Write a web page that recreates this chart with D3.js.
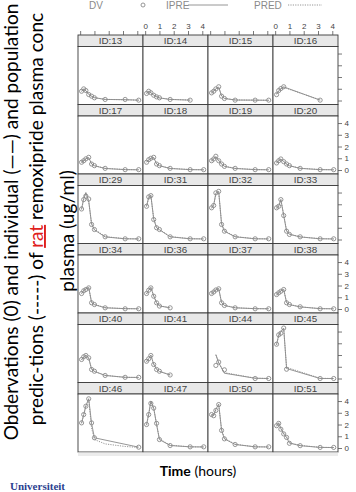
<!DOCTYPE html>
<html>
<head>
<meta charset="utf-8">
<script src="https://cdn.jsdelivr.net/npm/d3@7"></script>
<style>
  html, body { margin: 0; padding: 0; background: #fff; }
  svg { display: block; }
</style>
</head>
<body>
<svg id="chart" width="356" height="492"></svg>
<script>
// Sampling times (hours) shared by all subjects
const times = [0.1, 0.25, 0.4, 0.6, 0.8, 1.0, 1.75, 3.15, 4.1];

// Subject IDs, one panel each, row by row
const ids = [13, 14, 15, 16, 17, 18, 19, 20, 29, 31, 32, 33,
             34, 36, 37, 38, 40, 41, 44, 45, 46, 47, 50, 51];

// Observed concentrations (ug/ml); null = no sample
const dv = [
  [0.79, 0.99, 0.85, 0.51, 0.37, 0.23, 0.09, 0.09, 0.03],
  [0.60, 0.79, 0.66, 0.45, 0.31, 0.23, 0.09, 0.03, null],
  [0.65, 0.79, 0.99, 1.17, 0.37, 0.17, 0.03, 0.03, 0.03],
  [0.50, 0.85, 1.02, 1.17, null, null, null, 0.03, null],
  [0.66, 0.79, 0.95, 1.08, 0.51, 0.37, 0.14, 0.03, 0.03],
  [0.66, 0.88, 1.00, 1.08, 0.51, 0.37, 0.14, 0.03, 0.03],
  [0.79, 0.94, 1.17, 0.79, 0.51, 0.31, 0.14, 0.03, 0.03],
  [0.60, 0.79, 0.94, 0.71, 0.51, 0.37, 0.14, 0.03, 0.03],
  [2.60, 3.40, 3.70, 3.45, 1.28, 0.85, 0.23, 0.06, 0.06],
  [2.83, 3.63, 3.74, 1.70, 1.00, 0.85, 0.23, 0.06, 0.06],
  [2.70, 2.90, 3.97, 4.10, 1.28, 0.71, 0.23, 0.06, 0.06],
  [2.70, 2.83, 3.40, 2.04, 0.71, 0.43, 0.23, 0.06, 0.06],
  [1.32, 1.55, 1.66, 1.80, 0.53, 0.38, 0.10, 0.02, 0.02],
  [1.32, 1.60, 1.80, 1.09, 0.53, 0.25, 0.10, null, null],
  [1.32, 1.45, 1.62, 1.72, 0.53, 0.30, 0.10, 0.02, 0.02],
  [1.23, 1.38, 1.51, 1.66, 0.53, 0.38, 0.19, 0.02, 0.02],
  [1.62, 1.85, 1.96, 1.76, 0.77, 0.62, 0.26, 0.10, 0.10],
  [1.47, 1.68, 1.96, 1.19, 0.77, 0.62, 0.30, null, null],
  [null, null, 1.11, 1.40, null, 0.74, null, 0.00, 0.00],
  [2.92, 3.72, 3.86, 4.30, 0.79, null, null, 0.00, 0.00],
  [2.14, 2.85, 3.56, 4.19, 2.14, 0.87, null, null, 0.07],
  [2.00, 2.85, 3.80, 3.40, 2.10, 0.72, 0.21, 0.10, 0.10],
  [2.85, 2.75, 3.20, 3.70, 1.50, 0.78, 0.30, 0.10, 0.10],
  [1.90, 2.10, 1.60, 1.20, 0.90, 0.40, 0.20, 0.05, 0.05]
];

// Individual predictions (IPRE)
const ipre = [
  [0.80, 0.97, 0.84, 0.52, 0.36, 0.24, 0.09, 0.07, 0.03],
  [0.62, 0.78, 0.66, 0.46, 0.32, 0.22, 0.09, 0.03, null],
  [0.66, 0.80, 1.00, 1.15, 0.38, 0.17, 0.04, 0.03, 0.02],
  [0.52, 0.84, 1.02, 1.16, null, null, null, 0.03, null],
  [0.67, 0.80, 0.96, 1.06, 0.52, 0.36, 0.13, 0.03, 0.02],
  [0.67, 0.87, 1.00, 1.07, 0.52, 0.36, 0.13, 0.03, 0.02],
  [0.80, 0.95, 1.15, 0.80, 0.50, 0.31, 0.13, 0.03, 0.02],
  [0.62, 0.80, 0.93, 0.72, 0.50, 0.36, 0.14, 0.03, 0.02],
  [2.60, 3.50, 4.00, 3.30, 1.30, 0.82, 0.22, 0.06, 0.05],
  [2.85, 3.60, 3.80, 1.72, 1.00, 0.83, 0.23, 0.06, 0.05],
  [2.70, 2.95, 3.95, 4.10, 1.30, 0.70, 0.23, 0.06, 0.05],
  [2.70, 2.85, 3.42, 2.05, 0.72, 0.44, 0.22, 0.06, 0.05],
  [1.33, 1.60, 1.72, 1.85, 0.55, 0.37, 0.10, 0.03, 0.02],
  [1.30, 1.62, 1.85, 1.10, 0.52, 0.26, 0.10, null, null],
  [1.30, 1.47, 1.65, 1.75, 0.54, 0.30, 0.10, 0.03, 0.02],
  [1.22, 1.40, 1.55, 1.68, 0.54, 0.37, 0.18, 0.03, 0.02],
  [1.60, 1.85, 2.00, 1.75, 0.78, 0.60, 0.26, 0.10, 0.09],
  [1.45, 1.70, 2.00, 1.20, 0.78, 0.60, 0.30, null, null],
  [null, null, 2.05, 1.35, null, 0.45, null, 0.02, 0.00],
  [2.90, 3.70, 4.00, 4.30, 0.85, null, null, 0.00, 0.00],
  [2.14, 2.85, 3.60, 4.20, 2.10, 0.87, null, null, 0.07],
  [2.00, 2.90, 4.00, 3.40, 2.00, 0.72, 0.21, 0.10, 0.09],
  [2.85, 2.80, 3.30, 3.75, 1.50, 0.78, 0.30, 0.10, 0.09],
  [1.90, 2.15, 1.65, 1.20, 0.90, 0.42, 0.20, 0.05, 0.04]
];

// Population predictions (PRED)
const pred = [
  [0.78, 0.95, 0.82, 0.55, 0.38, 0.25, 0.10, 0.06, 0.03],
  [0.60, 0.76, 0.68, 0.48, 0.33, 0.23, 0.10, 0.04, null],
  [0.64, 0.82, 0.98, 1.10, 0.42, 0.20, 0.05, 0.03, 0.02],
  [0.55, 0.82, 1.00, 1.12, null, null, null, 0.05, null],
  [0.65, 0.82, 0.95, 1.02, 0.55, 0.38, 0.14, 0.04, 0.02],
  [0.66, 0.85, 0.98, 1.04, 0.55, 0.38, 0.14, 0.04, 0.02],
  [0.78, 0.93, 1.10, 0.82, 0.52, 0.33, 0.14, 0.04, 0.02],
  [0.62, 0.78, 0.90, 0.74, 0.52, 0.37, 0.15, 0.04, 0.02],
  [2.55, 3.40, 3.90, 3.20, 1.40, 0.88, 0.25, 0.07, 0.05],
  [2.80, 3.55, 3.70, 1.80, 1.05, 0.85, 0.25, 0.07, 0.05],
  [2.65, 2.90, 3.85, 4.00, 1.40, 0.75, 0.25, 0.07, 0.05],
  [2.65, 2.80, 3.35, 2.10, 0.78, 0.47, 0.23, 0.07, 0.05],
  [1.30, 1.55, 1.70, 1.80, 0.60, 0.40, 0.12, 0.03, 0.02],
  [1.28, 1.58, 1.80, 1.15, 0.56, 0.28, 0.11, null, null],
  [1.28, 1.45, 1.60, 1.70, 0.58, 0.32, 0.11, 0.03, 0.02],
  [1.20, 1.38, 1.52, 1.64, 0.58, 0.39, 0.19, 0.03, 0.02],
  [1.58, 1.82, 1.95, 1.72, 0.82, 0.62, 0.27, 0.10, 0.09],
  [1.42, 1.66, 1.95, 1.25, 0.80, 0.62, 0.31, null, null],
  [null, null, 2.00, 1.30, null, 0.50, null, 0.03, 0.00],
  [2.85, 3.65, 3.95, 4.20, 0.95, null, null, 0.02, 0.00],
  [2.10, 2.80, 3.50, 4.10, 1.70, 0.72, 0.35, 0.13, 0.05],
  [1.95, 2.85, 3.90, 3.35, 2.05, 0.78, 0.24, 0.10, 0.09],
  [2.80, 2.75, 3.25, 3.65, 1.60, 0.82, 0.32, 0.10, 0.09],
  [1.85, 2.10, 1.70, 1.25, 0.95, 0.45, 0.22, 0.06, 0.04]
];

const xTicks = [0, 1, 2, 3, 4];
const yTicks = [0, 1, 2, 3, 4];

// Lattice geometry
const nCols = 4, nRows = 6;
const gridLeft = 78, gridTop = 35;
const colW = 65, rowH = 69.5, stripH = 11.5;
const bodyH = rowH - stripH;

const svg = d3.select("#chart");
svg.append("rect").attr("width", 356).attr("height", 492).attr("fill", "#fff");

const x = d3.scaleLinear().domain([-0.15, 4.4]).range([0, colW]);
const y = d3.scaleLinear().domain([-0.34, 4.6]).range([bodyH, 0]);

const markColor = "#8a8a8a";
const frameColor = "#3a3a3a";
const tickColor = "#555";

const defs = svg.append("defs");
defs.append("clipPath").attr("id", "bodyClip")
  .append("rect").attr("x", 0).attr("y", 0).attr("width", colW).attr("height", bodyH);

const lineGen = d3.line()
  .x(d => x(d.t))
  .y(d => y(d.c));

function series(vals) {
  return times.map((t, i) => ({ t, c: vals[i] })).filter(d => d.c !== null);
}

ids.forEach((id, k) => {
  const col = k % nCols, row = Math.floor(k / nCols);
  const px = gridLeft + col * colW;
  const py = gridTop + row * rowH;
  const g = svg.append("g").attr("transform", `translate(${px},${py})`);

  // strip
  g.append("rect")
    .attr("x", 0).attr("y", 0).attr("width", colW).attr("height", stripH)
    .attr("fill", "#e8e8e8").attr("stroke", frameColor).attr("stroke-width", 0.9);
  g.append("text")
    .attr("x", colW / 2).attr("y", stripH / 2 + 3.4)
    .attr("text-anchor", "middle")
    .attr("font-family", "Liberation Sans, Arial, sans-serif")
    .attr("font-size", 9.8).attr("fill", "#444")
    .text("ID:" + id);

  const body = g.append("g").attr("transform", `translate(0,${stripH})`);
  body.append("rect")
    .attr("x", 0).attr("y", 0).attr("width", colW).attr("height", bodyH)
    .attr("fill", "#fff").attr("stroke", frameColor).attr("stroke-width", 0.9);

  const plot = body.append("g").attr("clip-path", "url(#bodyClip)");

  plot.append("path")
    .attr("d", lineGen(series(pred[k])))
    .attr("fill", "none").attr("stroke", markColor)
    .attr("stroke-width", 0.9).attr("stroke-dasharray", "1.2,1.2");

  plot.append("path")
    .attr("d", lineGen(series(ipre[k])))
    .attr("fill", "none").attr("stroke", markColor).attr("stroke-width", 0.9);

  plot.selectAll("circle.dv")
    .data(series(dv[k]))
    .join("circle")
    .attr("class", "dv")
    .attr("cx", d => x(d.t)).attr("cy", d => y(d.c))
    .attr("r", 2.1)
    .attr("fill", "none").attr("stroke", markColor).attr("stroke-width", 0.9);

  // top axis (ticks on every column, labels on alternate columns)
  if (row === 0) {
    const ax = d3.axisTop(x).tickValues(xTicks).tickSize(4).tickPadding(2)
      .tickFormat(col % 2 === 1 ? d3.format("d") : () => "");
    const axg = g.append("g").call(ax);
    axg.select(".domain").remove();
    axg.selectAll("line").attr("stroke", tickColor).attr("stroke-width", 0.8);
    axg.selectAll("text")
      .attr("font-family", "Liberation Sans, Arial, sans-serif")
      .attr("font-size", 8).attr("fill", "#444");
  }

  // right axis (ticks on every row, labels on alternate rows)
  if (col === nCols - 1) {
    const ay = d3.axisRight(y).tickValues(yTicks).tickSize(4).tickPadding(2.5)
      .tickFormat(row % 2 === 1 ? d3.format("d") : () => "");
    const ayg = body.append("g").attr("transform", `translate(${colW},0)`).call(ay);
    ayg.select(".domain").remove();
    ayg.selectAll("line").attr("stroke", tickColor).attr("stroke-width", 0.8);
    ayg.selectAll("text")
      .attr("font-family", "Liberation Sans, Arial, sans-serif")
      .attr("font-size", 8).attr("fill", "#444");
  }
});

// faint shadow band under the lattice
svg.append("rect")
  .attr("x", gridLeft).attr("y", gridTop + nRows * rowH + 0.5)
  .attr("width", nCols * colW).attr("height", 3.5)
  .attr("fill", "#ececec");

// legend
const lg = svg.append("g")
  .attr("font-family", "Liberation Sans, Arial, sans-serif")
  .attr("font-size", 10).attr("fill", "#8a8a8a");
lg.append("text").attr("x", 89).attr("y", 9).text("DV");
lg.append("circle").attr("cx", 143).attr("cy", 5).attr("r", 2)
  .attr("fill", "none").attr("stroke", "#8a8a8a").attr("stroke-width", 0.9);
lg.append("text").attr("x", 166).attr("y", 9).text("IPRE");
lg.append("line").attr("x1", 188).attr("x2", 228).attr("y1", 5).attr("y2", 5)
  .attr("stroke", "#8a8a8a").attr("stroke-width", 0.9);
lg.append("text").attr("x", 254).attr("y", 9).text("PRED");
lg.append("line").attr("x1", 288).attr("x2", 322).attr("y1", 5).attr("y2", 5)
  .attr("stroke", "#8a8a8a").attr("stroke-width", 0.9).attr("stroke-dasharray", "1.2,1.2");

// y-axis title (three rotated lines)
const titleFont = "Lato, 'Open Sans', sans-serif";
function rotLine(cx, cy, size) {
  return svg.append("text")
    .attr("transform", `translate(${cx},${cy}) rotate(-90)`)
    .attr("text-anchor", "middle")
    .attr("font-family", titleFont)
    .attr("font-size", size)
    .attr("fill", "#000");
}
const t1 = rotLine(18, 222, 17).text("Obdervations (0) and individual (\u2014\u2014) and population");
const t2 = rotLine(43, 219, 17);
t2.append("tspan").text("predic-tions (-----) of ");
t2.append("tspan").attr("fill", "#e0201b").attr("text-decoration", "underline").text("rat");
t2.append("tspan").text(" remoxipride plasma conc");
const t3 = rotLine(74, 231, 17).text("plasma (ug/ml)");

// fit the title to its column length
const target = 437;
const measured = t1.node().getComputedTextLength();
const fs = 17 * target / measured;
[t1, t2, t3].forEach(t => t.attr("font-size", fs));

// x-axis title
const xt = svg.append("text")
  .attr("x", 198).attr("y", 476)
  .attr("text-anchor", "middle")
  .attr("font-family", titleFont)
  .attr("font-size", 14).attr("fill", "#000");
xt.append("tspan").attr("font-weight", "bold").text("Time");
xt.append("tspan").text(" (hours)");

// footer wordmark
svg.append("text")
  .attr("x", 10).attr("y", 490)
  .attr("font-family", "Liberation Serif, serif")
  .attr("font-size", 11).attr("font-weight", "bold")
  .attr("fill", "#2c3f8f")
  .text("Universiteit");
</script>
</body>
</html>
